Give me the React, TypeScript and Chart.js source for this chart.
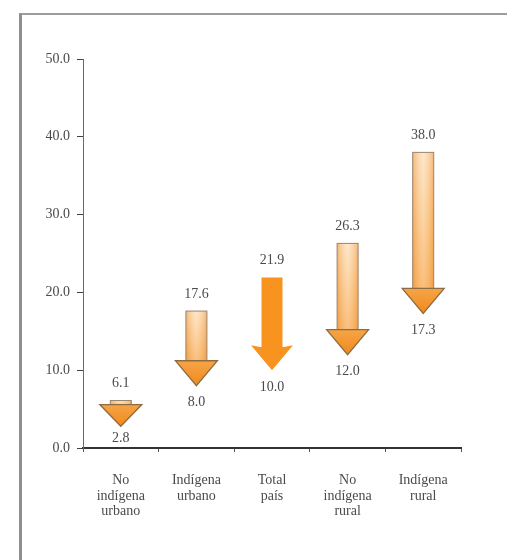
import React, { useEffect, useRef } from "react";
import { Chart, registerables, Plugin } from "chart.js";

Chart.register(...registerables);

const categories = [
   ["No", "indígena", "urbano"],
   ["Indígena", "urbano"],
   ["Total", "país"],
   ["No", "indígena", "rural"],
   ["Indígena", "rural"],
];
const startValues = [6.1, 17.6, 21.9, 26.3, 38.0];
const endValues = [2.8, 8.0, 10.0, 12.0, 17.3];
const solidIndex = 2; // "Total país" drawn as plain orange
const yTicks = [0, 10, 20, 30, 40, 50];

const serif = '"Liberation Serif", "Times New Roman", serif';

const arrowPlugin: Plugin = {
   id: "arrows",
   afterDatasetsDraw(chart) {
      const ctx = chart.ctx;
      const meta = chart.getDatasetMeta(0);
      const bottomLimit = chart.chartArea.bottom - 10;
      meta.data.forEach((el: any, i: number) => {
         const x = el.x;
         const top = Math.min(el.y, el.base);
         const tip = Math.max(el.y, el.base);
         const shaftHalf = el.width / 2;
         const headHalf = shaftHalf * 2;
         const headH = Math.min(23, tip - top - 6);
         const shoulder = tip - headH;

         ctx.save();
         if (i === solidIndex) {
            ctx.beginPath();
            ctx.moveTo(x - shaftHalf, top);
            ctx.lineTo(x + shaftHalf, top);
            ctx.lineTo(x + shaftHalf, shoulder);
            ctx.lineTo(x + headHalf, shoulder - 2);
            ctx.lineTo(x, tip);
            ctx.lineTo(x - headHalf, shoulder - 2);
            ctx.lineTo(x - shaftHalf, shoulder);
            ctx.closePath();
            ctx.fillStyle = "#f7931e";
            ctx.fill();
         } else {
            // shaft
            const sv = ctx.createLinearGradient(0, top, 0, shoulder);
            sv.addColorStop(0, "#fde0ba");
            sv.addColorStop(1, "#f7a94f");
            ctx.fillStyle = sv;
            ctx.fillRect(x - shaftHalf, top, shaftHalf * 2, shoulder - top);
            const sh = ctx.createLinearGradient(x - shaftHalf, 0, x + shaftHalf, 0);
            sh.addColorStop(0, "rgba(238,140,40,0.45)");
            sh.addColorStop(0.5, "rgba(255,255,255,0.25)");
            sh.addColorStop(1, "rgba(238,140,40,0.45)");
            ctx.fillStyle = sh;
            ctx.fillRect(x - shaftHalf, top, shaftHalf * 2, shoulder - top);
            ctx.strokeStyle = "#9a8470";
            ctx.lineWidth = 1;
            ctx.strokeRect(x - shaftHalf, top, shaftHalf * 2, shoulder - top);

            // head
            const hv = ctx.createLinearGradient(0, shoulder - 2, 0, tip);
            hv.addColorStop(0, "#f6a447");
            hv.addColorStop(1, "#f08a1c");
            ctx.beginPath();
            ctx.moveTo(x - headHalf, shoulder - 2);
            ctx.lineTo(x + headHalf, shoulder - 2);
            ctx.lineTo(x, tip);
            ctx.closePath();
            ctx.fillStyle = hv;
            ctx.fill();
            ctx.strokeStyle = "#8d6c42";
            ctx.lineWidth = 1.3;
            ctx.stroke();
         }

         ctx.font = `14px ${serif}`;
         ctx.fillStyle = "#4a4a4a";
         ctx.textAlign = "center";
         ctx.textBaseline = "middle";
         ctx.fillText(startValues[i].toFixed(1), x, top - 17);
         ctx.fillText(endValues[i].toFixed(1), x, Math.min(tip + 17, bottomLimit));
         ctx.restore();
      });
   },
};

const App = () => {
   const chartRef = useRef<HTMLCanvasElement | null>(null);

   useEffect(() => {
      if (!chartRef.current) return;
      const chart = new Chart(chartRef.current, {
         type: "bar",
         data: {
            labels: categories,
            datasets: [
               {
                  data: startValues.map((s, i) => [endValues[i], s]) as any,
                  backgroundColor: "rgba(0,0,0,0)",
                  barThickness: 21,
               },
            ],
         },
         options: {
            animation: false,
            responsive: true,
            maintainAspectRatio: false,
            layout: { padding: { top: 43, right: 46, left: 0, bottom: 0 } },
            plugins: {
               legend: { display: false },
               tooltip: { enabled: false },
            },
            scales: {
               x: {
                  afterFit: (scale: any) => {
                     scale.height = 112;
                  },
                  border: { display: true, color: "#333", width: 2 },
                  grid: {
                     drawOnChartArea: false,
                     drawTicks: true,
                     tickLength: 4,
                     color: "#555",
                  },
                  ticks: {
                     padding: 21,
                     maxRotation: 0,
                     autoSkip: false,
                     color: "#4a4a4a",
                     font: { family: serif, size: 14, lineHeight: 1.1 },
                  },
               },
               y: {
                  min: yTicks[0],
                  max: yTicks[yTicks.length - 1],
                  afterFit: (scale: any) => {
                     scale.width = 61;
                  },
                  afterBuildTicks: (scale: any) => {
                     scale.ticks = yTicks.map((v) => ({ value: v }));
                  },
                  border: { display: true, color: "#6a6a6a", width: 1 },
                  grid: {
                     drawOnChartArea: false,
                     drawTicks: true,
                     tickLength: 6,
                     color: "#444",
                  },
                  ticks: {
                     padding: 7,
                     color: "#4a4a4a",
                     font: { family: serif, size: 14 },
                     callback: (v: any) => Number(v).toFixed(1),
                  },
               },
            },
         },
         plugins: [arrowPlugin],
      });

      return () => {
         chart.destroy();
      };
   }, []);

   return (
      <div
         style={{
            position: "fixed",
            left: 0,
            top: 0,
            width: 507,
            height: 560,
            background: "#fff",
            overflow: "hidden",
         }}
      >
         <div
            style={{
               position: "absolute",
               left: 19,
               top: 13,
               width: 488,
               height: 547,
               borderLeft: "3px solid #8e8e8e",
               borderTop: "2px solid #9c9c9c",
            }}
         />
         <div style={{ position: "absolute", left: 22, top: 16, width: 485, height: 544 }}>
            <canvas ref={chartRef} />
         </div>
      </div>
   );
};

export default App;
